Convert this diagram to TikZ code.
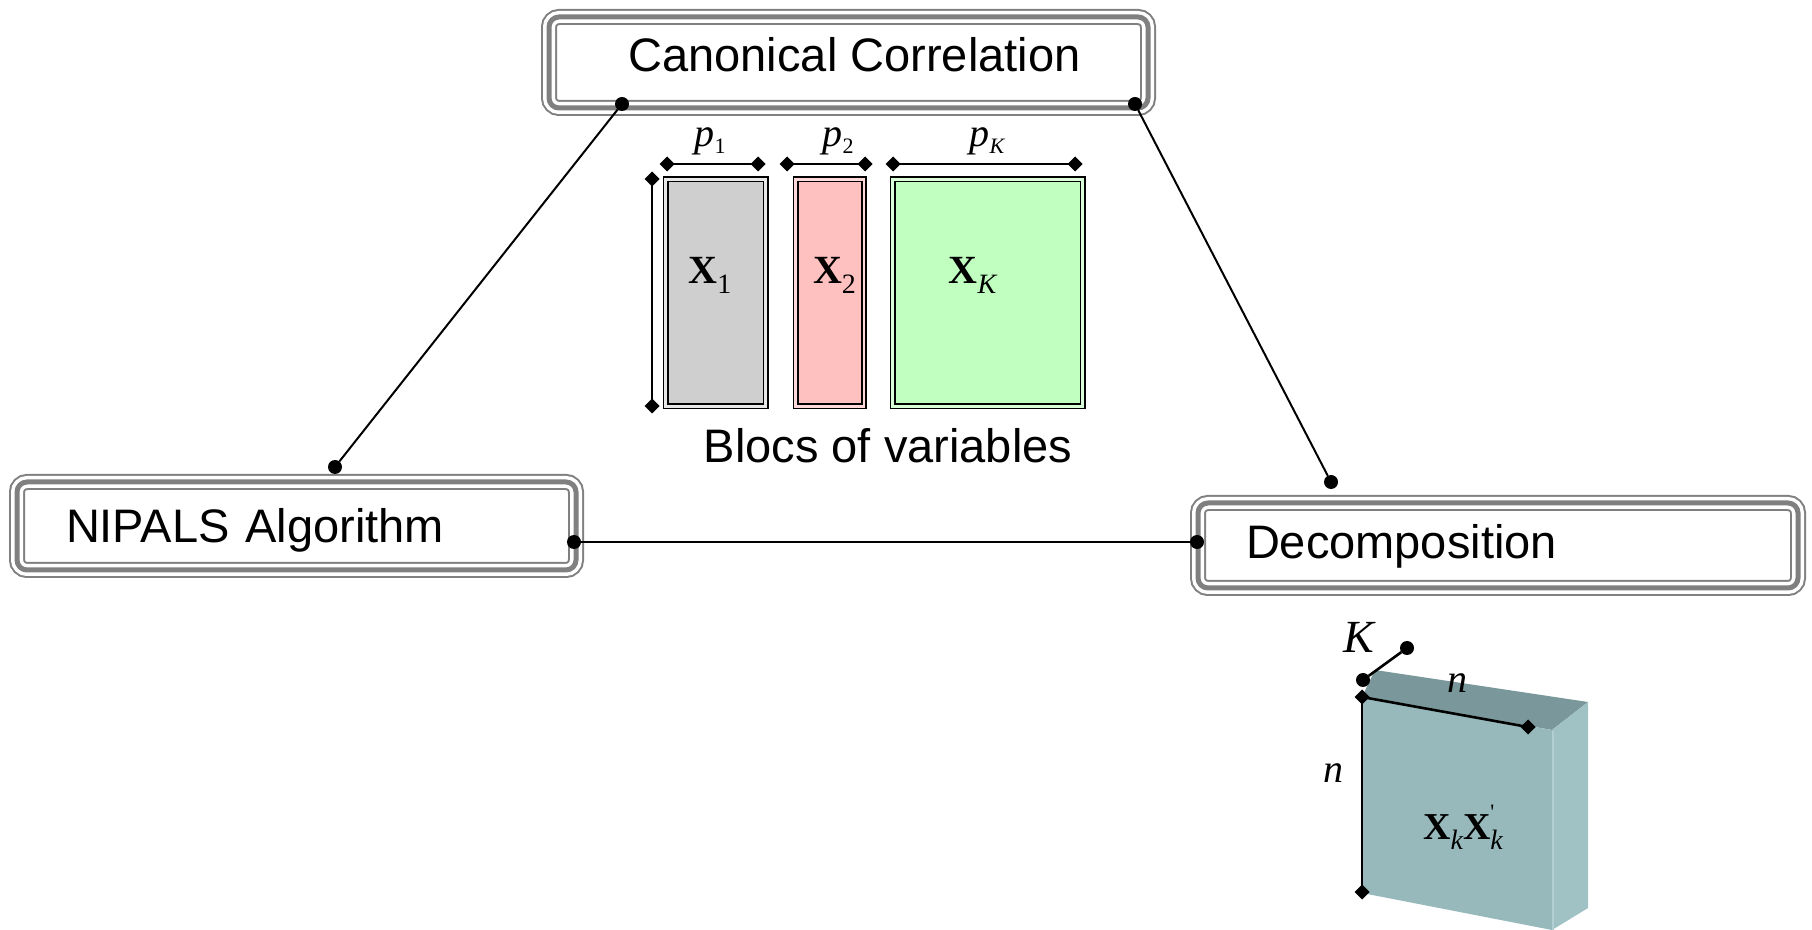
\documentclass[tikz,border=0pt]{standalone}
\usepackage{fontspec}
\setmainfont{Liberation Sans}
\newfontfamily\tms{Liberation Serif}
\usetikzlibrary{shapes.geometric}
\definecolor{boxgray}{RGB}{128,128,128}
\definecolor{gA}{RGB}{207,207,207}
\definecolor{rA}{RGB}{255,192,192}
\definecolor{grA}{RGB}{192,255,192}
\definecolor{cfront}{RGB}{151,185,188}
\definecolor{ctop}{RGB}{122,152,155}
\definecolor{cright}{RGB}{160,194,197}
\definecolor{cedge}{RGB}{178,208,210}
\newcommand\plab[1]{{\tms\itshape p}\raisebox{-3.5pt}{\fontsize{11}{11}\selectfont\tms #1}}
\newcommand\xlab[1]{{\tms\bfseries X}\raisebox{-5pt}{\fontsize{14}{14}\selectfont\tms #1}}
\begin{document}
\begin{tikzpicture}[x=0.5pt,y=-0.5pt,
  every node/.style={inner sep=0pt, outer sep=0pt},
  tbox/.style={rectangle, rounded corners=5pt, draw=boxgray, line width=2.5pt,
     preaction={draw=boxgray, line width=8pt},
     preaction={draw=white, line width=6pt},
     text height=17pt, text depth=0pt,
     font=\fontsize{23.5}{28}\selectfont},
  dot/.style={circle, fill=black, minimum size=7pt},
  dia/.style={diamond, fill=black, minimum size=7.5pt},
  conn/.style={line width=1pt},
  dim/.style={line width=1.3pt},
  blk/.style={rectangle, draw=black, line width=0.8pt, double distance=1.4pt, minimum height=113.5pt},
  plabel/.style={font=\fontsize{20}{24}\selectfont},
  xlabel/.style={font=\fontsize{20}{24}\selectfont, yshift=9pt}
]
\path[use as bounding box] (0,0) rectangle (1812,930);

% --- main boxes
\node[tbox, minimum width=299.5pt, minimum height=45.5pt] (cc) at (848.5,62.5)
  {\raisebox{4pt}{\hspace{6pt}Canonical Correlation}};
\node[tbox, minimum width=279.5pt, minimum height=44pt, text width=230.5pt, align=left, inner xsep=24.5pt] (nip) at (296.5,526)
  {NIPALS Algorithm};
\node[tbox, minimum width=300pt, minimum height=42.5pt, text width=252pt, align=left, inner xsep=24pt] (dec) at (1498,545.5)
  {\raisebox{2pt}{Decomposition}};

% --- connector dots
\node[dot] (c1) at (622,104) {};
\node[dot] (c2) at (1135,104) {};
\node[dot] (n1) at (335,467) {};
\node[dot] (n2) at (574,542) {};
\node[dot] (d1) at (1331,482) {};
\node[dot] (d2) at (1197,542) {};
\draw[conn] (c1) -- (n1);
\draw[conn] (c2) -- (d1);
\draw[conn] (n2) -- (d2);

% --- blocks
\node[blk, fill=gA, double=gA!50, minimum width=50pt,
  label={[name=lx1, xlabel, xshift=-2.75pt]center:\xlab{1}}] (x1) at (715.5,293) {};
\node[blk, fill=rA, double=rA!60, minimum width=34.25pt,
  label={[name=lx2, xlabel, xshift=2.4pt]center:\xlab{2}}] (x2) at (829.75,293) {};
\node[blk, fill=grA, double=grA!60, minimum width=95pt,
  label={[name=lxk, xlabel, xshift=-7.5pt]center:\xlab{\itshape K}}] (xk) at (987.5,293) {};

% dimension lines of blocks
\node[dia] (v1) at (652,179) {};
\node[dia] (v2) at (652,406) {};
\draw[dim] (v1.center) -- (v2.center);
\node[dia] (a1) at (667,164) {};
\node[dia] (a2) at (758,164) {};
\draw[dim] (a1.center) -- (a2.center);
\node[dia] (b1) at (787,164) {};
\node[dia] (b2) at (865,164) {};
\draw[dim] (b1.center) -- (b2.center);
\node[dia] (k1) at (893,164) {};
\node[dia] (k2) at (1075,164) {};
\draw[dim] (k1.center) -- (k2.center);
\node[plabel] (p1) at (710,141) {\plab{1}};
\node[plabel] (p2) at (838,141) {\plab{2}};
\node[plabel] (pk) at (987,141) {\plab{\itshape K}};

\node[font=\fontsize{23.5}{28}\selectfont] (bv) at (888,446) {Blocs of variables};

% --- cube
\fill[ctop] (1362,697) -- (1375,670) -- (1588,702) -- (1552,730) -- cycle;
\fill[cright] (1552,730) -- (1588,702) -- (1588,908) -- (1552,930) -- cycle;
\fill[cfront] (1362,697) -- (1552,730) -- (1552,930) -- (1362,893) -- cycle;
\draw[cedge, line width=1.2pt] (1553,731) -- (1553,930);

\node[dia] (ca) at (1362,697) {};
\node[dia] (cb) at (1362,892) {};
\node[dia] (cc2) at (1528,727) {};
\draw[dim] (ca.center) -- (cb.center);
\draw[dim] (ca.center) -- (cc2.center);
\node[dot] (q1) at (1363,680) {};
\node[dot] (q2) at (1407,648) {};
\draw[dim] (q1) -- (q2);

\node[font=\tms\itshape\fontsize{23}{23}\selectfont] (kl) at (1359,637) {K};
\node[font=\tms\itshape\fontsize{20}{20}\selectfont] (nt) at (1457,683) {n};
\node[font=\tms\itshape\fontsize{20}{20}\selectfont] (nl) at (1333,773) {n};
\node[font=\fontsize{19}{19}\selectfont] (xx) at (1463,827)
  {{\tms\bfseries X}\raisebox{-5pt}{\fontsize{14}{14}\selectfont\tms\itshape k}{\tms\bfseries X}\rlap{\raisebox{10pt}{\fontsize{11}{11}\selectfont\tms '}}\raisebox{-5pt}{\fontsize{14}{14}\selectfont\tms\itshape k}};
\end{tikzpicture}
\end{document}
